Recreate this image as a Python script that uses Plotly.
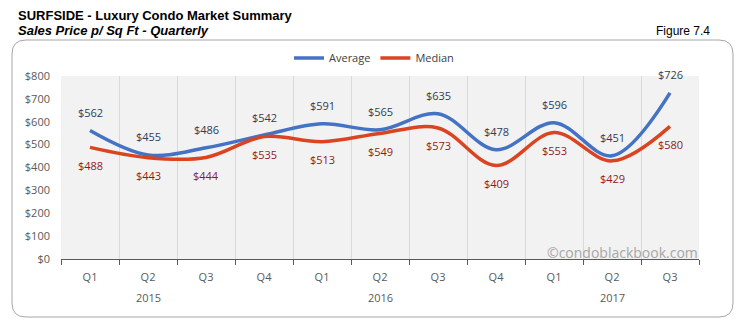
import plotly.graph_objects as go

quarters = ["Q1", "Q2", "Q3", "Q4", "Q1", "Q2", "Q3", "Q4", "Q1", "Q2", "Q3"]
years = ["", "2015", "", "", "", "2016", "", "", "", "2017", ""]
average = [562, 455, 486, 542, 591, 565, 635, 478, 596, 451, 726]
median = [488, 443, 444, 535, 513, 549, 573, 409, 553, 429, 580]
yticks = [0, 100, 200, 300, 400, 500, 600, 700, 800]

W, H = 738, 326
L, R, T, B = 61, 699, 76, 259


def px(x):
    return (x - L) / (R - L)


def py(y):
    return (B - y) / (B - T)


xs = list(range(len(quarters)))

fig = go.Figure()
fig.add_trace(go.Scatter(
    x=xs, y=average, name="Average", mode="lines",
    line=dict(color="#4472C4", width=3.5, shape="spline", smoothing=1),
))
fig.add_trace(go.Scatter(
    x=xs, y=median, name="Median", mode="lines",
    line=dict(color="#DA4420", width=3.5, shape="spline", smoothing=1),
))

for x, v in zip(xs, average):
    fig.add_annotation(x=x, y=v, text="$" + str(v), showarrow=False,
                       yshift=18, xanchor="center", yanchor="middle",
                       font=dict(family="Open Sans", size=11, color="#2E3D5E"))
for x, v in zip(xs, median):
    fig.add_annotation(x=x, y=v, text="$" + str(v), showarrow=False,
                       yshift=-18, xanchor="center", yanchor="middle",
                       font=dict(family="Open Sans", size=11, color="#8E1B1B"))
for x, yr in zip(xs, years):
    if yr:
        fig.add_annotation(x=x, xref="x", yref="paper", y=py(297), text=yr,
                           showarrow=False, xanchor="center", yanchor="middle",
                           font=dict(family="Open Sans", size=11, color="#595959"))

# rounded border
x0, x1 = px(12), px(733)
y0, y1 = py(317), py(40)
rx = 14 / (R - L)
ry = 14 / (B - T)
path = (f"M {x0+rx},{y1} L {x1-rx},{y1} Q {x1},{y1} {x1},{y1-ry} "
        f"L {x1},{y0+ry} Q {x1},{y0} {x1-rx},{y0} L {x0+rx},{y0} "
        f"Q {x0},{y0} {x0},{y0+ry} L {x0},{y1-ry} Q {x0},{y1} {x0+rx},{y1} Z")
fig.add_shape(type="path", path=path, xref="paper", yref="paper",
              line=dict(color="#A6A6A6", width=1), layer="below")

fig.add_annotation(text="<b>SURFSIDE - Luxury Condo Market Summary</b>",
                   xref="paper", yref="paper", x=px(16), y=py(15),
                   xanchor="left", yanchor="middle", showarrow=False,
                   font=dict(family="Liberation Sans", size=13, color="#000000"))
fig.add_annotation(text="<b><i>Sales Price p/ Sq Ft - Quarterly</i></b>",
                   xref="paper", yref="paper", x=px(16), y=py(31),
                   xanchor="left", yanchor="middle", showarrow=False,
                   font=dict(family="Liberation Sans", size=13, color="#000000"))
fig.add_annotation(text="Figure 7.4",
                   xref="paper", yref="paper", x=px(712), y=py(31),
                   xanchor="right", yanchor="middle", showarrow=False,
                   font=dict(family="Liberation Sans", size=12, color="#000000"))
fig.add_annotation(text="©condoblackbook.com",
                   xref="paper", yref="paper", x=px(700), y=py(252),
                   xanchor="right", yanchor="middle", showarrow=False,
                   font=dict(family="Open Sans", size=14, color="#A6A6A6"))

fig.update_layout(
    width=W, height=H,
    margin=dict(l=L, r=W - R, t=T, b=H - B),
    paper_bgcolor="white", plot_bgcolor="#F2F2F2",
    showlegend=True,
    legend=dict(orientation="h", x=px(374), y=py(58), xanchor="center",
                yanchor="middle", font=dict(family="Open Sans", size=11, color="#404040"),
                itemwidth=30, bgcolor="rgba(0,0,0,0)"),
    xaxis=dict(range=[-0.5, len(xs) - 0.5], tickvals=xs, ticktext=quarters,
               showgrid=False, zeroline=False, showline=True, linecolor="#595959",
               linewidth=1, ticks="", ticklabelstandoff=8,
               tickfont=dict(family="Open Sans", size=11, color="#595959"),
               minor=dict(tickvals=[i - 0.5 for i in range(len(xs) + 1)], ticks="outside",
                          ticklen=5, tickcolor="#595959", showgrid=True,
                          gridcolor="#D9D9D9", gridwidth=1)),
    yaxis=dict(range=[0, 800], tickvals=yticks, ticktext=["$" + str(v) for v in yticks],
               showgrid=False, zeroline=False, showline=False, ticks="",
               ticklabelstandoff=10,
               tickfont=dict(family="Open Sans", size=11, color="#595959")),
)

fig.write_html("out.html")
